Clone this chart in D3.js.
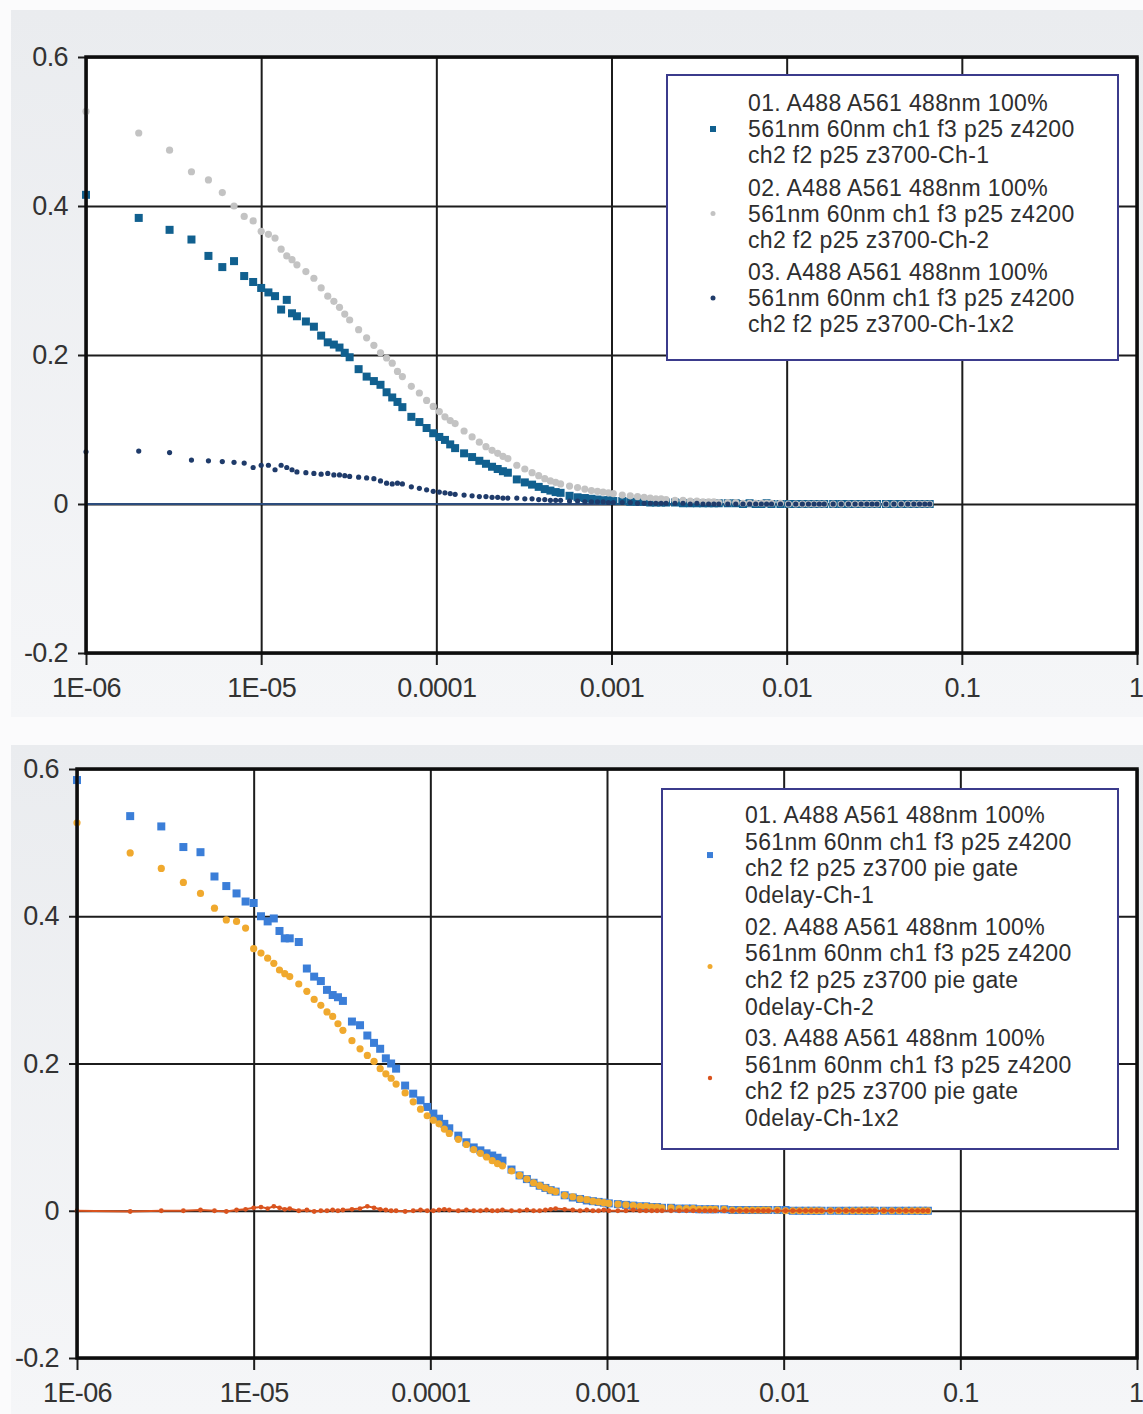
<!DOCTYPE html>
<html>
<head>
<meta charset="utf-8">
<script src="https://cdn.jsdelivr.net/npm/d3@7"></script>
<style>
  html, body { margin: 0; padding: 0; background: #fbfbfc; }
  svg { display: block; }
  .tick text { font-family: "Liberation Sans", Arial, sans-serif; }
</style>
</head>
<body>
<svg id="chart" width="1143" height="1414"></svg>
<script>
// Correlator lag times (microseconds), multi-tau spacing
const lagMicroseconds = [
  1, 2, 3, 4, 5, 6, 7, 8,
  9, 10, 11, 12, 13, 14, 15, 16,
  18, 20, 22, 24, 26, 28, 30, 32,
  36, 40, 44, 48, 52, 56, 60, 64,
  72, 80, 88, 96, 104, 112, 120, 128,
  144, 160, 176, 192, 208, 224, 240, 256,
  288, 320, 352, 384, 416, 448, 480, 512,
  576, 640, 704, 768, 832, 896, 960, 1024,
  1152, 1280, 1408, 1536, 1664, 1792, 1920, 2048,
  2304, 2560, 2816, 3072, 3328, 3584, 3840, 4096,
  4608, 5120, 5632, 6144, 6656, 7168, 7680, 8192,
  9216, 10240, 11264, 12288, 13312, 14336, 15360, 16384,
  18432, 20480, 22528, 24576, 26624, 28672, 30720, 32768,
  36864, 40960, 45056, 49152, 53248, 57344, 61440, 65536
];
const lagSeconds = lagMicroseconds.map(t => t * 1e-6);

// Upper plot: correlation curves
const topCh1 = [
  0.415, 0.384, 0.368, 0.355, 0.333, 0.318, 0.326, 0.306,
  0.298, 0.290, 0.284, 0.279, 0.261, 0.274, 0.256, 0.252,
  0.245, 0.238, 0.226, 0.217, 0.214, 0.210, 0.203, 0.197,
  0.181, 0.171, 0.165, 0.160, 0.150, 0.143, 0.137, 0.130,
  0.117, 0.110, 0.102, 0.095, 0.090, 0.086, 0.080, 0.075,
  0.068, 0.063, 0.058, 0.054, 0.050, 0.047, 0.044, 0.042,
  0.033, 0.029, 0.026, 0.023, 0.020, 0.018, 0.016, 0.015,
  0.011, 0.009, 0.008, 0.007, 0.006, 0.005, 0.005, 0.004,
  0.004, 0.003, 0.003, 0.003, 0.002, 0.002, 0.002, 0.002,
  0.002, 0.001, 0.001, 0.001, 0.001, 0.001, 0.001, 0.001,
  0.001, 0.001, 0.000, 0.001, 0.000, 0.000, 0.001, 0.000,
  0.000, 0.000, 0.000, 0.000, 0.000, 0.000, 0.000, 0.000,
  0.000, 0.000, 0.000, 0.000, 0.000, 0.000, 0.000, 0.000,
  0.000, 0.000, 0.000, 0.000, 0.000, 0.000, 0.000, 0.000
];
const topCh2 = [
  0.527, 0.498, 0.475, 0.446, 0.435, 0.418, 0.400, 0.386,
  0.380, 0.366, 0.362, 0.357, 0.342, 0.333, 0.328, 0.321,
  0.312, 0.303, 0.290, 0.279, 0.272, 0.264, 0.255, 0.247,
  0.234, 0.223, 0.213, 0.203, 0.196, 0.189, 0.178, 0.171,
  0.158, 0.149, 0.139, 0.131, 0.124, 0.117, 0.112, 0.108,
  0.098, 0.090, 0.083, 0.077, 0.072, 0.068, 0.064, 0.061,
  0.052, 0.047, 0.042, 0.038, 0.034, 0.031, 0.029, 0.027,
  0.024, 0.022, 0.020, 0.018, 0.017, 0.016, 0.015, 0.014,
  0.012, 0.011, 0.010, 0.009, 0.008, 0.007, 0.007, 0.006,
  0.005, 0.005, 0.004, 0.004, 0.003, 0.003, 0.003, 0.002,
  0.002, 0.002, 0.001, 0.001, 0.001, 0.001, 0.001, 0.001,
  0.001, 0.000, 0.000, 0.000, 0.000, 0.000, 0.000, 0.000,
  0.000, 0.000, 0.000, 0.000, 0.000, 0.000, 0.000, 0.000,
  0.000, 0.000, 0.000, 0.000, 0.000, 0.000, 0.000, 0.000
];
const topCh1x2 = [
  0.070, 0.071, 0.069, 0.059, 0.058, 0.057, 0.056, 0.055,
  0.049, 0.052, 0.052, 0.046, 0.052, 0.049, 0.046, 0.043,
  0.042, 0.041, 0.040, 0.041, 0.039, 0.039, 0.038, 0.037,
  0.036, 0.035, 0.034, 0.031, 0.028, 0.027, 0.028, 0.027,
  0.023, 0.021, 0.019, 0.017, 0.016, 0.015, 0.014, 0.013,
  0.012, 0.011, 0.010, 0.010, 0.009, 0.009, 0.008, 0.008,
  0.008, 0.007, 0.007, 0.006, 0.006, 0.005, 0.005, 0.005,
  0.004, 0.004, 0.003, 0.003, 0.003, 0.003, 0.002, 0.002,
  0.002, 0.002, 0.001, 0.001, 0.001, 0.001, 0.001, 0.001,
  0.001, 0.001, 0.000, 0.001, 0.000, 0.000, 0.000, 0.000,
  0.000, 0.000, 0.000, 0.000, 0.000, 0.000, 0.000, 0.000,
  0.000, 0.000, 0.000, 0.000, 0.000, 0.000, 0.000, 0.000,
  0.000, 0.000, 0.000, 0.000, 0.000, 0.000, 0.000, 0.000,
  0.000, 0.000, 0.000, 0.000, 0.000, 0.000, 0.000, 0.000
];

// Lower plot: pie gate, 0 delay
const pieCh1 = [
  0.585, 0.536, 0.522, 0.494, 0.487, 0.454, 0.441, 0.431,
  0.420, 0.418, 0.400, 0.393, 0.397, 0.380, 0.370, 0.370,
  0.365, 0.329, 0.318, 0.312, 0.300, 0.293, 0.290, 0.285,
  0.257, 0.252, 0.238, 0.228, 0.220, 0.207, 0.200, 0.193,
  0.170, 0.159, 0.150, 0.141, 0.132, 0.125, 0.118, 0.112,
  0.102, 0.093, 0.086, 0.082, 0.078, 0.075, 0.072, 0.068,
  0.056, 0.048, 0.043, 0.038, 0.034, 0.031, 0.028, 0.026,
  0.021, 0.018, 0.016, 0.014, 0.013, 0.012, 0.011, 0.010,
  0.009, 0.008, 0.007, 0.006, 0.006, 0.005, 0.005, 0.004,
  0.004, 0.003, 0.003, 0.003, 0.002, 0.002, 0.002, 0.002,
  0.002, 0.001, 0.001, 0.001, 0.001, 0.001, 0.001, 0.001,
  0.001, 0.001, 0.000, 0.000, 0.000, 0.000, 0.000, 0.000,
  0.000, 0.000, 0.000, 0.000, 0.000, 0.000, 0.000, 0.000,
  0.000, 0.000, 0.000, 0.000, 0.000, 0.000, 0.000, 0.000
];
const pieCh2 = [
  0.527, 0.486, 0.465, 0.446, 0.431, 0.411, 0.395, 0.393,
  0.384, 0.356, 0.350, 0.343, 0.336, 0.327, 0.322, 0.318,
  0.308, 0.298, 0.287, 0.279, 0.270, 0.264, 0.254, 0.245,
  0.231, 0.220, 0.211, 0.203, 0.193, 0.186, 0.180, 0.172,
  0.160, 0.148, 0.138, 0.129, 0.123, 0.118, 0.111, 0.105,
  0.097, 0.090, 0.083, 0.078, 0.073, 0.068, 0.064, 0.061,
  0.054, 0.048, 0.043, 0.038, 0.034, 0.031, 0.028, 0.026,
  0.021, 0.019, 0.016, 0.015, 0.013, 0.012, 0.011, 0.010,
  0.009, 0.008, 0.007, 0.006, 0.006, 0.005, 0.005, 0.004,
  0.004, 0.003, 0.003, 0.003, 0.002, 0.002, 0.002, 0.002,
  0.002, 0.001, 0.001, 0.001, 0.001, 0.001, 0.001, 0.001,
  0.001, 0.000, 0.000, 0.000, 0.000, 0.000, 0.000, 0.000,
  0.000, 0.000, 0.000, 0.000, 0.000, 0.000, 0.000, 0.000,
  0.000, 0.000, 0.000, 0.000, 0.000, 0.000, 0.000, 0.000
];
const pieCh1x2 = [
  0.000, -0.001, 0.000, 0.000, 0.001, 0.000, -0.001, 0.001,
  0.002, 0.004, 0.005, 0.003, 0.006, 0.004, 0.002, 0.003,
  0.000, 0.001, -0.001, 0.000, 0.000, 0.001, 0.000, 0.001,
  0.002, 0.003, 0.006, 0.004, 0.002, 0.001, 0.000, 0.000,
  -0.001, 0.000, 0.001, 0.000, 0.000, 0.001, 0.002, 0.001,
  0.000, 0.001, 0.000, 0.000, 0.001, 0.000, 0.000, 0.001,
  0.000, 0.000, 0.001, 0.000, 0.000, 0.001, 0.002, 0.003,
  0.002, 0.001, 0.000, 0.001, 0.000, 0.000, 0.001, 0.000,
  0.000, 0.000, 0.001, 0.000, 0.000, 0.000, 0.000, 0.000,
  0.000, 0.000, 0.000, 0.000, 0.000, 0.000, 0.000, 0.000,
  0.000, 0.000, 0.000, 0.000, 0.000, 0.000, 0.000, 0.000,
  0.000, 0.000, 0.000, 0.000, 0.000, 0.000, 0.000, 0.000,
  0.000, 0.000, 0.000, 0.000, 0.000, 0.000, 0.000, 0.000,
  0.000, 0.000, 0.000, 0.000, 0.000, 0.000, 0.000, 0.000
];

// Axis ticks
const xTickValues = [1e-6, 1e-5, 1e-4, 1e-3, 1e-2, 1e-1, 1];
const xTickLabels = ["1E-06", "1E-05", "0.0001", "0.001", "0.01", "0.1", "1"];
const yTickValues = [0.6, 0.4, 0.2, 0, -0.2];
const yTickLabels = ["0.6", "0.4", "0.2", "0", "-0.2"];

// Legend entries (wrapped as shown in the legend box)
const topLegendLines = [
  ["01. A488 A561 488nm 100%", "561nm 60nm ch1 f3 p25 z4200", "ch2 f2 p25 z3700-Ch-1"],
  ["02. A488 A561 488nm 100%", "561nm 60nm ch1 f3 p25 z4200", "ch2 f2 p25 z3700-Ch-2"],
  ["03. A488 A561 488nm 100%", "561nm 60nm ch1 f3 p25 z4200", "ch2 f2 p25 z3700-Ch-1x2"]
];
const bottomLegendLines = [
  ["01. A488 A561 488nm 100%", "561nm 60nm ch1 f3 p25 z4200", "ch2 f2 p25 z3700 pie gate", "0delay-Ch-1"],
  ["02. A488 A561 488nm 100%", "561nm 60nm ch1 f3 p25 z4200", "ch2 f2 p25 z3700 pie gate", "0delay-Ch-2"],
  ["03. A488 A561 488nm 100%", "561nm 60nm ch1 f3 p25 z4200", "ch2 f2 p25 z3700 pie gate", "0delay-Ch-1x2"]
];

const svg = d3.select("#chart");
const defs = svg.append("defs");
const grad = defs.append("linearGradient").attr("id", "panelBg")
  .attr("x1", 0).attr("y1", 0).attr("x2", 0).attr("y2", 1);
grad.append("stop").attr("offset", "0%").attr("stop-color", "#eaecef");
grad.append("stop").attr("offset", "100%").attr("stop-color", "#f5f6f8");

const FONT = '"Liberation Sans", Arial, sans-serif';
const CANVAS_W = 1143;

function drawPanel(cfg) {
  const root = svg.append("g");
  root.append("rect")
    .attr("x", cfg.panel[0]).attr("y", cfg.panel[1])
    .attr("width", cfg.panel[2]).attr("height", cfg.panel[3])
    .attr("fill", "url(#panelBg)");

  const x = d3.scaleLog().domain([1e-6, 1]).range([cfg.left, cfg.right]);
  const y = d3.scaleLinear().domain([-0.2, 0.6]).range([cfg.bottom, cfg.top]);
  const w = cfg.right - cfg.left, h = cfg.bottom - cfg.top;

  root.append("rect").attr("x", cfg.left).attr("y", cfg.top)
    .attr("width", w).attr("height", h).attr("fill", "#ffffff");

  // grid lines
  const gx = root.append("g").attr("transform", `translate(0,${cfg.top})`)
    .call(d3.axisBottom(x).tickValues(xTickValues).tickSize(h).tickFormat(""));
  const gy = root.append("g").attr("transform", `translate(${cfg.left},0)`)
    .call(d3.axisLeft(y).tickValues(yTickValues).tickSize(-w).tickFormat(""));
  [gx, gy].forEach(g => {
    g.select(".domain").remove();
    g.selectAll(".tick line").attr("stroke", "#1c1c1c").attr("stroke-width", 2);
  });

  // outer ticks and labels
  const ax = root.append("g").attr("transform", `translate(0,${cfg.bottom})`)
    .call(d3.axisBottom(x).tickValues(xTickValues).tickSize(12).tickPadding(13)
      .tickFormat((d, i) => xTickLabels[i]));
  const ay = root.append("g").attr("transform", `translate(${cfg.left},0)`)
    .call(d3.axisLeft(y).tickValues(yTickValues).tickSize(8).tickPadding(10)
      .tickFormat((d, i) => yTickLabels[i]));
  [ax, ay].forEach(g => {
    g.select(".domain").remove();
    g.selectAll(".tick line").attr("stroke", "#1c1c1c").attr("stroke-width", 2);
    g.selectAll(".tick text").attr("fill", "#333").style("font-size", "27px")
      .style("font-family", FONT).style("letter-spacing", "-0.6px");
  });
  // the last x label sits at the canvas edge: keep it inside
  ax.selectAll(".tick text").filter(d => d === 1)
    .attr("text-anchor", "end").attr("x", CANVAS_W - cfg.right);

  const plot = root.append("g");
  cfg.draw(plot, x, y);

  // plot frame
  root.append("rect").attr("x", cfg.left).attr("y", cfg.top)
    .attr("width", w).attr("height", h)
    .attr("fill", "none").attr("stroke", "#0d0d0d").attr("stroke-width", 3.5);

  // legend
  const lg = root.append("g");
  lg.append("rect").attr("x", cfg.legend.x).attr("y", cfg.legend.y)
    .attr("width", cfg.legend.w).attr("height", cfg.legend.h)
    .attr("fill", "#ffffff").attr("stroke", "#3b3b8c").attr("stroke-width", 2);
  cfg.legendLines.forEach((lines, i) => {
    const y0 = cfg.legend.firstLine + i * cfg.legend.itemStep;
    lines.forEach((s, j) => {
      lg.append("text").attr("x", cfg.legend.textX)
        .attr("y", y0 + j * cfg.legend.lineStep).attr("dy", "0.35em")
        .attr("fill", "#2e2e2e").style("font-family", FONT).style("font-size", "23px")
        .style("letter-spacing", "0.35px").text(s);
    });
    const my = y0 + (lines.length - 1) * cfg.legend.lineStep / 2;
    cfg.legendMarks[i](lg, cfg.legend.markX, my);
  });
}

function squares(g, x, y, data, color, size) {
  g.append("g").selectAll("rect").data(data).join("rect")
    .attr("x", (d, i) => x(lagSeconds[i]) - size / 2)
    .attr("y", d => y(d) - size / 2)
    .attr("width", size).attr("height", size).attr("fill", color);
}
function dots(g, x, y, data, color, r) {
  g.append("g").selectAll("circle").data(data).join("circle")
    .attr("cx", (d, i) => x(lagSeconds[i]))
    .attr("cy", d => y(d)).attr("r", r).attr("fill", color);
}

const C = {
  top1: "#11608f", top2: "#c3c3c3", top3: "#1f3b6a",
  bot1: "#3b7ed8", bot2: "#f0a92e", bot3: "#d9531e"
};

drawPanel({
  panel: [11, 10, 1132, 707],
  left: 86, right: 1137, top: 57, bottom: 653,
  legendLines: topLegendLines,
  legend: { x: 667, y: 75, w: 451, h: 285, textX: 748, markX: 713,
            firstLine: 103, lineStep: 26, itemStep: 84.5 },
  legendMarks: [
    (g, cx, cy) => g.append("rect").attr("x", cx - 3).attr("y", cy - 3).attr("width", 6).attr("height", 6).attr("fill", C.top1),
    (g, cx, cy) => g.append("circle").attr("cx", cx).attr("cy", cy).attr("r", 2.5).attr("fill", C.top2),
    (g, cx, cy) => g.append("circle").attr("cx", cx).attr("cy", cy).attr("r", 2.5).attr("fill", C.top3)
  ],
  draw: (g, x, y) => {
    // zero baseline across the lag range
    g.append("line")
      .attr("x1", x(lagSeconds[0])).attr("x2", x(lagSeconds[lagSeconds.length - 1]))
      .attr("y1", y(0)).attr("y2", y(0))
      .attr("stroke", "#2c4c7c").attr("stroke-width", 2.2);
    squares(g, x, y, topCh1, C.top1, 8);
    dots(g, x, y, topCh2, C.top2, 3.6);
    dots(g, x, y, topCh1x2, C.top3, 2.6);
  }
});

drawPanel({
  panel: [11, 745, 1132, 669],
  left: 77, right: 1137, top: 769, bottom: 1358,
  legendLines: bottomLegendLines,
  legend: { x: 662, y: 789, w: 456, h: 360, textX: 745, markX: 710,
            firstLine: 815, lineStep: 26.7, itemStep: 111.5 },
  legendMarks: [
    (g, cx, cy) => g.append("rect").attr("x", cx - 3).attr("y", cy - 3).attr("width", 6).attr("height", 6).attr("fill", C.bot1),
    (g, cx, cy) => g.append("circle").attr("cx", cx).attr("cy", cy).attr("r", 2.5).attr("fill", C.bot2),
    (g, cx, cy) => g.append("circle").attr("cx", cx).attr("cy", cy).attr("r", 2.2).attr("fill", C.bot3)
  ],
  draw: (g, x, y) => {
    squares(g, x, y, pieCh1, C.bot1, 8);
    dots(g, x, y, pieCh2, C.bot2, 3.6);
    g.append("path").datum(pieCh1x2)
      .attr("d", d3.line().x((d, i) => x(lagSeconds[i])).y(d => y(d)))
      .attr("fill", "none").attr("stroke", C.bot3).attr("stroke-width", 2);
    dots(g, x, y, pieCh1x2, C.bot3, 2.4);
  }
});
</script>
</body>
</html>
